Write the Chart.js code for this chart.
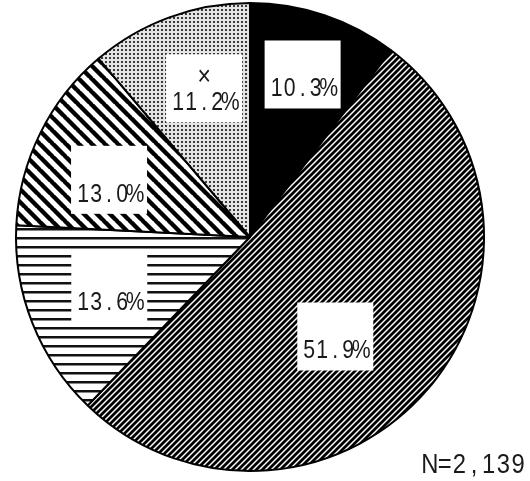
<!DOCTYPE html>
<html>
<head>
<meta charset="utf-8">
<script src="https://cdn.jsdelivr.net/npm/chart.js@4/dist/chart.umd.min.js"></script>
<style>
  body { margin: 0; background: #fff; }
  #pie { display: block; }
</style>
</head>
<body>
<canvas id="pie" width="530" height="481"></canvas>
<script>
// chart data
const categories = ['A', 'B', 'C', 'D', '×'];
const shares = [10.3, 51.9, 13.6, 13.0, 11.2];
const topLines = ['', '', '', '', '×'];
const sampleNote = 'N=2,139';

// label placement: fraction of radius, shift from slice middle (degrees)
const labelRadius = [0.73, 0.56, 0.64, 0.65, 0.665];
const labelShift = [-0.6, 8.9, 1.6, -4.2, 3.0];

// hatch patterns, drawn on small tiles
function makeTile(size, draw) {
  const c = document.createElement('canvas');
  c.width = size; c.height = size;
  const g = c.getContext('2d');
  g.fillStyle = '#fff';
  g.fillRect(0, 0, size, size);
  draw(g, size);
  return document.getElementById('pie').getContext('2d').createPattern(c, 'repeat');
}

function slashLines(g, s, w) {
  g.strokeStyle = '#000';
  g.lineWidth = w;
  g.beginPath();
  for (let k = -1; k <= 1; k++) {
    g.moveTo(k * s - 1, s + 1);
    g.lineTo(k * s + s + 1, -1);
  }
  g.stroke();
}

function backLines(g, s, w) {
  g.strokeStyle = '#000';
  g.lineWidth = w;
  g.beginPath();
  for (let k = -1; k <= 1; k++) {
    g.moveTo(k * s - 1, -1);
    g.lineTo(k * s + s + 1, s + 1);
  }
  g.stroke();
}

const fills = [
  '#000',
  makeTile(6, (g, s) => slashLines(g, s, 2.8)),
  makeTile(9, (g, s) => { g.fillStyle = '#111'; g.fillRect(0, 3, s, 2.5); }),
  makeTile(13, (g, s) => backLines(g, s, 4.4)),
  makeTile(4, (g, s) => {
    g.fillStyle = '#e4e4e4'; g.fillRect(0, 0, s, s);
    g.fillStyle = '#3a3a3a'; g.fillRect(1, 1, 2, 2);
  })
];

// monospaced look: every character centred in a fixed cell
function cellText(ctx, text, x, y, size, cell) {
  ctx.save();
  ctx.font = size + 'px "Liberation Sans"';
  ctx.textAlign = 'center';
  ctx.textBaseline = 'middle';
  const chars = Array.from(text);
  const left = x - chars.length * cell / 2;
  chars.forEach((ch, k) => {
    ctx.save();
    ctx.translate(left + cell * (k + 0.5), y);
    ctx.scale(0.85, 1);
    ctx.fillText(ch, 0, 0);
    ctx.restore();
  });
  ctx.restore();
}

const boxLabels = {
  id: 'boxLabels',
  afterDatasetsDraw(chart) {
    const {ctx} = chart;
    const meta = chart.getDatasetMeta(0);
    meta.data.forEach((arc, i) => {
      const mid = (arc.startAngle + arc.endAngle) / 2 + labelShift[i] * Math.PI / 180;
      const r = arc.outerRadius * labelRadius[i];
      const x = arc.x + Math.cos(mid) * r;
      const y = arc.y + Math.sin(mid) * r;
      ctx.save();
      ctx.fillStyle = '#fff';
      ctx.fillRect(x - 38, y - 34, 76, 68);
      ctx.fillStyle = '#1a1a1a';
      if (topLines[i]) cellText(ctx, topLines[i], x, y - 11, 27, 13);
      cellText(ctx, shares[i].toFixed(1) + '%', x, y + 15, 25, 13);
      ctx.restore();
    });
    ctx.fillStyle = '#1a1a1a';
    cellText(ctx, sampleNote, 474, 465, 28, 14.7);
  }
};

new Chart(document.getElementById('pie'), {
  type: 'pie',
  data: {
    labels: categories,
    datasets: [{
      data: shares,
      backgroundColor: fills,
      borderColor: '#000',
      borderWidth: 2
    }]
  },
  options: {
    responsive: false,
    animation: false,
    layout: { padding: { left: 15, right: 45, top: 2, bottom: 9 } },
    plugins: {
      legend: { display: false },
      tooltip: { enabled: false }
    }
  },
  plugins: [boxLabels]
});
</script>
</body>
</html>
